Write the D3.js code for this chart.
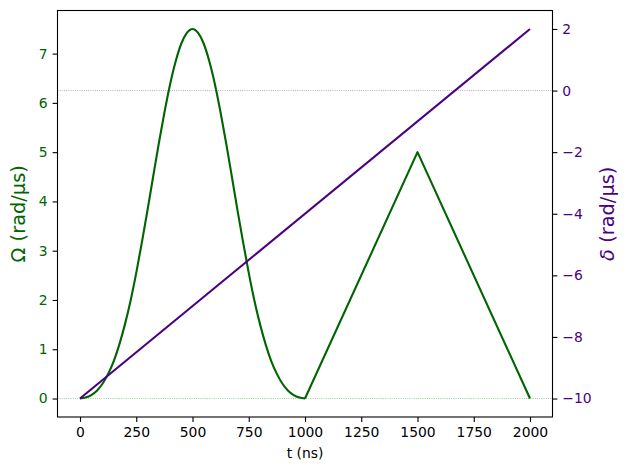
<!DOCTYPE html>
<html>
<head>
<meta charset="utf-8">
<script src="https://cdn.jsdelivr.net/npm/d3@7"></script>
<style>
  html, body { margin: 0; padding: 0; background: #fff; }
  svg { display: block; font-family: "DejaVu Sans", sans-serif; }
</style>
</head>
<body>
<svg id="chart" width="630" height="470"></svg>
<script>
// ---- data ----
const pulseTime = [0,25,50,75,100,125,150,175,200,225,250,275,300,325,350,375,400,425,450,475,500,
                   525,550,575,600,625,650,675,700,725,750,775,800,825,850,875,900,925,950,975,1000];
const pulseOmega = [0,0.02,0.07,0.16,0.30,0.50,0.76,1.10,1.51,1.99,2.55,3.17,3.82,4.50,5.17,5.80,6.37,6.84,7.20,7.42,7.50,
                    7.42,7.20,6.84,6.37,5.80,5.17,4.50,3.82,3.17,2.55,1.99,1.51,1.10,0.76,0.50,0.30,0.16,0.07,0.02,0];
const rampTime = [1000, 1500, 2000];
const rampOmega = [0, 5, 0];
const detuningTime = [0, 2000];
const detuningDelta = [-10, 2];
const xTicks = [0,250,500,750,1000,1250,1500,1750,2000];
const omegaTicks = [0,1,2,3,4,5,6,7];
const deltaTicks = [-10,-8,-6,-4,-2,0,2];

// ---- layout ----
const svg = d3.select("#chart");
const L = 57.5, R = 552.5, T = 10.5, B = 417;
const green = "#006400", indigo = "#4B0082";
const fs = 13.9;

const x = d3.scaleLinear().domain([-100, 2100]).range([L, R]);
const yO = d3.scaleLinear().domain([-0.375, 7.875]).range([B, T]);
const yD = d3.scaleLinear().domain([-10.6, 2.6]).range([B, T]);

// reference dotted lines
svg.append("line").attr("x1", L).attr("x2", R).attr("y1", yO(0)).attr("y2", yO(0))
  .attr("stroke", "#008000").attr("stroke-width", 0.8).attr("stroke-opacity", 0.6)
  .attr("stroke-dasharray", "0.8,1.4");
svg.append("line").attr("x1", L).attr("x2", R).attr("y1", yD(0)).attr("y2", yD(0))
  .attr("stroke", "#7B2FBE").attr("stroke-width", 0.8).attr("stroke-opacity", 0.7)
  .attr("stroke-dasharray", "0.8,1.4");

// omega curves
const pulseLine = d3.line().x(d => x(d[0])).y(d => yO(d[1])).curve(d3.curveMonotoneX);
svg.append("path").datum(pulseTime.map((t, i) => [t, pulseOmega[i]]))
  .attr("d", pulseLine).attr("fill", "none").attr("stroke", green).attr("stroke-width", 2.1)
  .attr("stroke-linejoin", "round");
const rampLine = d3.line().x(d => x(d[0])).y(d => yO(d[1]));
svg.append("path").datum(rampTime.map((t, i) => [t, rampOmega[i]]))
  .attr("d", rampLine).attr("fill", "none").attr("stroke", green).attr("stroke-width", 2.1)
  .attr("stroke-linejoin", "round");

// delta line
const deltaLine = d3.line().x(d => x(d[0])).y(d => yD(d[1]));
svg.append("path").datum(detuningTime.map((t, i) => [t, detuningDelta[i]]))
  .attr("d", deltaLine).attr("fill", "none").attr("stroke", indigo).attr("stroke-width", 2.1);

// axes
function styleAxis(g, color) {
  g.select(".domain").remove();
  g.selectAll(".tick line").attr("stroke", "#000").attr("stroke-width", 1.1);
  g.selectAll(".tick text").attr("fill", color).style("font-size", fs + "px")
    .style("font-family", "'DejaVu Sans', sans-serif");
}
const gx = svg.append("g").attr("transform", `translate(0,${B})`)
  .call(d3.axisBottom(x).tickValues(xTicks).tickFormat(d3.format("d")).tickSize(4.9).tickPadding(4.9));
styleAxis(gx, "#000");
const gl = svg.append("g").attr("transform", `translate(${L},0)`)
  .call(d3.axisLeft(yO).tickValues(omegaTicks).tickFormat(d3.format("d")).tickSize(4.9).tickPadding(4.9));
styleAxis(gl, green);
const gr = svg.append("g").attr("transform", `translate(${R},0)`)
  .call(d3.axisRight(yD).tickValues(deltaTicks).tickFormat(d3.format("d")).tickSize(4.9).tickPadding(4.9));
styleAxis(gr, indigo);

// frame
svg.append("rect").attr("x", L).attr("y", T).attr("width", R - L).attr("height", B - T)
  .attr("fill", "none").attr("stroke", "#000").attr("stroke-width", 1.1);

// labels
svg.append("text").attr("x", (L + R) / 2).attr("y", 458).attr("text-anchor", "middle")
  .style("font-size", fs + "px").text("t (ns)");
svg.append("text").attr("transform", `translate(25,${(T + B) / 2}) rotate(-90)`)
  .attr("text-anchor", "middle").attr("fill", green).style("font-size", "19.4px")
  .text("Ω (rad/µs)");
const rl = svg.append("text").attr("transform", `translate(614,${(T + B) / 2}) rotate(-90)`)
  .attr("text-anchor", "middle").attr("fill", indigo).style("font-size", "19.4px");
rl.append("tspan").style("font-style", "italic").text("δ");
rl.append("tspan").text(" (rad/µs)");
</script>
</body>
</html>
